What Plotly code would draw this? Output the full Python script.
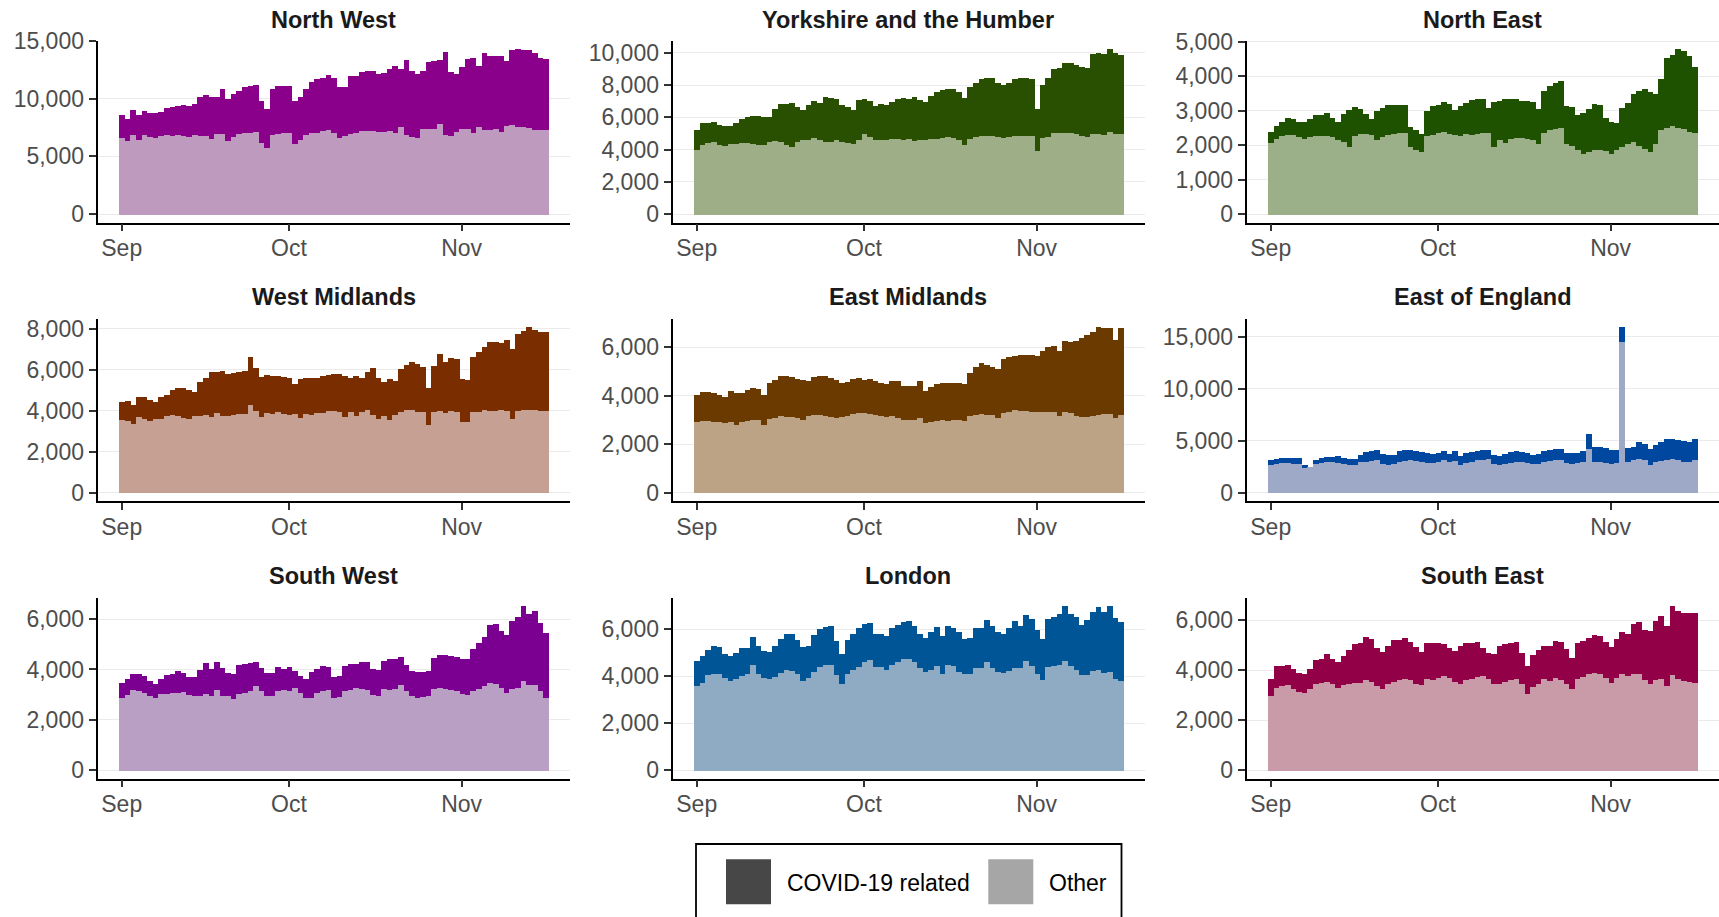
import pandas as pd
import plotly.graph_objects as go

# daily deaths, 1 Sep - 16 Nov 2020
DATES = pd.date_range("2020-09-01", periods=77, freq="D")

REGIONS = ["North West", "Yorkshire and the Humber", "North East",
           "West Midlands", "East Midlands", "East of England",
           "South West", "London", "South East"]

# total = COVID-19 related + other (bar height), other = lower part
NW_TOTAL = [8600, 8300, 9050, 8600, 9000, 8750, 8750, 8900, 9250, 9300,
            9400, 9500, 9400, 9550, 10200, 10350, 10150, 10200, 10850, 10000,
            10400, 10700, 11000, 11100, 11200, 9850, 9100, 10850, 11100, 11150,
            11100, 9850, 10200, 10900, 11500, 11700, 11800, 12100, 11800, 11000,
            11050, 12000, 12000, 12300, 12450, 12400, 12200, 12250, 12600, 12850,
            12600, 13400, 12450, 12200, 12450, 13200, 13300, 13400, 14050, 12350,
            12200, 12750, 13450, 13550, 12850, 13950, 13750, 13700, 13700, 13300,
            14250, 14300, 14200, 14200, 13950, 13550, 13500]
NW_OTHER = [6650, 6400, 6850, 6500, 6850, 6700, 6650, 6800, 6850, 6800,
            6900, 6800, 6700, 6850, 6800, 6800, 6550, 6950, 6950, 6400,
            6700, 6950, 7050, 7100, 7150, 6200, 5800, 6900, 7000, 7050,
            7100, 6100, 6450, 6850, 7050, 7100, 7250, 7350, 7050, 6650,
            6800, 7000, 7050, 7200, 7250, 7200, 7150, 7150, 7200, 7100,
            7600, 6850, 6700, 6600, 7450, 7450, 7450, 7800, 6850, 6800,
            7150, 7450, 7400, 7100, 7600, 7350, 7350, 7400, 7150, 7650,
            7750, 7550, 7550, 7500, 7350, 7300, 7300]

YH_TOTAL = [5270, 5700, 5700, 5730, 5570, 5500, 5480, 5700, 5950, 6030,
            6100, 6120, 6070, 6070, 6550, 6850, 6850, 6950, 6650, 6480,
            6800, 7050, 6950, 7300, 7250, 7150, 6800, 6700, 6500, 7100,
            7150, 7050, 6720, 6830, 6770, 7000, 7170, 7230, 7150, 7300,
            7100, 7000, 7350, 7600, 7720, 7820, 7820, 7620, 7220, 7900,
            8180, 8400, 8470, 8470, 8130, 8030, 8130, 8400, 8450, 8500,
            8380, 6580, 8030, 8450, 9020, 9100, 9380, 9380, 9300, 9170,
            9100, 9950, 10000, 9930, 10250, 10000, 9880]
YH_OTHER = [4030, 4350, 4430, 4500, 4350, 4250, 4400, 4400, 4430, 4430,
            4400, 4320, 4350, 4500, 4560, 4500, 4350, 4200, 4500, 4600,
            4650, 4730, 4600, 4500, 4520, 4600, 4520, 4450, 4380, 4600,
            4980, 4800, 4650, 4650, 4600, 4700, 4700, 4650, 4700, 4560,
            4600, 4650, 4700, 4720, 4780, 4800, 4780, 4600, 4350, 4700,
            4820, 4860, 4900, 4860, 4820, 4780, 4820, 4860, 4900, 4900,
            4900, 3940, 4780, 4820, 5080, 5060, 5080, 5060, 4980, 4900,
            4820, 4980, 5020, 4920, 5150, 5020, 5020]

NE_TOTAL = [2400, 2570, 2680, 2810, 2780, 2680, 2680, 2770, 2890, 2890,
            2940, 2820, 2680, 2920, 3040, 3130, 3070, 2920, 2780, 3020,
            3110, 3190, 3190, 3190, 3190, 2550, 2450, 2350, 3000, 3150,
            3170, 3280, 3210, 3030, 3150, 3250, 3330, 3370, 3350, 3110,
            3270, 3290, 3370, 3370, 3370, 3310, 3300, 3280, 3070, 3580,
            3740, 3820, 3880, 3150, 3130, 2880, 2960, 3070, 3200, 3180,
            2800, 2680, 2670, 3100, 3250, 3500, 3600, 3640, 3550, 3500,
            3930, 4550, 4620, 4800, 4750, 4600, 4300]
NE_OTHER = [2080, 2200, 2280, 2320, 2320, 2250, 2200, 2250, 2280, 2280,
            2280, 2260, 2180, 2100, 1960, 2280, 2330, 2350, 2300, 2180,
            2260, 2300, 2340, 2360, 2360, 1960, 1880, 1820, 2280, 2320,
            2370, 2400, 2350, 2300, 2280, 2330, 2300, 2350, 2370, 2370,
            1960, 2160, 2080, 2200, 2240, 2240, 2200, 2180, 2060, 2370,
            2450, 2500, 2530, 2060, 2000, 1870, 1770, 1820, 1870, 1890,
            1850, 1750, 1870, 1960, 2040, 2110, 1980, 1900, 1820, 2040,
            2470, 2530, 2570, 2530, 2490, 2400, 2370]

WM_TOTAL = [4440, 4470, 4280, 4650, 4650, 4500, 4410, 4690, 4770, 5010,
            5130, 5100, 5010, 4930, 5390, 5620, 5910, 5880, 5940, 5800,
            5830, 5910, 5940, 6600, 6100, 5650, 5750, 5710, 5680, 5650,
            5620, 5320, 5550, 5580, 5620, 5580, 5700, 5750, 5810, 5810,
            5710, 5620, 5710, 5580, 5880, 6070, 5620, 5390, 5550, 5450,
            6040, 6240, 6400, 6300, 6150, 5130, 6200, 6790, 6400, 6560,
            6530, 5550, 5520, 6600, 6860, 7130, 7350, 7350, 7280, 7440,
            6990, 7740, 7900, 8070, 7950, 7840, 7840]
WM_OTHER = [3540, 3490, 3330, 3710, 3590, 3490, 3620, 3590, 3760, 3790,
            3720, 3660, 3590, 3720, 3720, 3790, 3690, 3870, 3760, 3760,
            3790, 3820, 3820, 4280, 3980, 3710, 3870, 3850, 3920, 3850,
            3790, 3820, 3660, 3820, 3790, 3870, 3890, 3980, 3980, 3920,
            3710, 3920, 3760, 3920, 4030, 3790, 3620, 3760, 3540, 3790,
            3950, 4030, 4030, 3920, 3950, 3300, 3920, 3980, 3870, 3980,
            3920, 3430, 3460, 3920, 3950, 4030, 4000, 3980, 4030, 3980,
            3590, 3980, 4030, 4050, 4020, 3980, 3980]

EM_TOTAL = [4020, 4150, 4150, 4120, 4050, 3950, 4180, 4100, 4100, 4250,
            4330, 4300, 4050, 4550, 4650, 4800, 4800, 4780, 4700, 4650,
            4600, 4780, 4800, 4800, 4750, 4650, 4550, 4570, 4700, 4720,
            4650, 4680, 4620, 4550, 4500, 4600, 4620, 4400, 4400, 4400,
            4620, 4200, 4370, 4500, 4520, 4550, 4550, 4530, 4500, 4930,
            5200, 5350, 5280, 5200, 5100, 5500, 5620, 5630, 5700, 5680,
            5680, 5630, 5850, 6000, 6050, 5850, 6270, 6220, 6250, 6400,
            6520, 6630, 6830, 6800, 6800, 6300, 6800]
EM_OTHER = [2930, 2960, 2960, 2930, 2920, 2860, 2900, 2780, 2900, 2980,
            3000, 2990, 2780, 3050, 3100, 3150, 3130, 3130, 3100, 3000,
            3180, 3200, 3200, 3180, 3120, 3100, 3120, 3150, 3250, 3300,
            3280, 3250, 3200, 3150, 3130, 3180, 3100, 3020, 3000, 3000,
            3080, 2880, 2930, 2980, 3000, 2980, 3000, 3000, 2980, 3150,
            3200, 3230, 3220, 3200, 3100, 3300, 3350, 3400, 3380, 3380,
            3350, 3330, 3320, 3350, 3330, 3150, 3350, 3300, 3150, 3120,
            3130, 3150, 3200, 3250, 3230, 3100, 3200]

EOE_TOTAL = [3100, 3250, 3350, 3380, 3350, 3300, 2650, 2500, 3150, 3300,
             3400, 3450, 3500, 3300, 3200, 3250, 3650, 3900, 4000, 4100,
             3700, 3600, 3600, 4000, 4150, 4150, 4000, 3900, 3800, 3750,
             3850, 4050, 3700, 4050, 3500, 3800, 3900, 4000, 4100, 4150,
             3600, 3500, 3700, 3900, 4000, 3900, 3850, 3650, 3700, 4000,
             4100, 4200, 4250, 3850, 3800, 3850, 4050, 5650, 4400, 4400,
             4300, 4100, 4150, 15900, 4300, 4400, 4850, 4700, 4250, 4550,
             4850, 5200, 5150, 5100, 4950, 4900, 5200]
EOE_OTHER = [2700, 2800, 2850, 2850, 2800, 2750, 2400, 2450, 2800, 2900,
             2950, 2950, 2900, 2750, 2650, 2700, 2950, 3000, 3050, 3100,
             2800, 2700, 2750, 2950, 3050, 3100, 3050, 2950, 2850, 2900,
             3000, 3150, 2950, 3050, 2700, 2850, 2950, 3100, 3150, 3200,
             2750, 2650, 2800, 2900, 3000, 2950, 2900, 2750, 2800, 3000,
             3050, 3100, 3100, 2850, 2800, 2850, 2950, 4250, 3000, 2950,
             2900, 2800, 2850, 14500, 3000, 3100, 3200, 3150, 2650, 2950,
             3050, 3150, 3200, 3100, 3000, 2950, 3150]

SW_TOTAL = [3500, 3630, 3830, 3830, 3760, 3550, 3460, 3660, 3800, 3830,
            3940, 3900, 3730, 3730, 3980, 4260, 4050, 4310, 4090, 3870,
            3850, 4180, 4220, 4290, 4310, 4090, 3890, 3870, 4120, 4020,
            4130, 3960, 3760, 3630, 3930, 4050, 4160, 4130, 3730, 3760,
            4160, 4220, 4220, 4310, 4310, 4020, 3980, 4340, 4420, 4420,
            4510, 4180, 3960, 3920, 3920, 3960, 4490, 4590, 4580, 4550,
            4520, 4420, 4450, 4840, 5080, 5290, 5800, 5840, 5540, 5380,
            5940, 6090, 6530, 6240, 6330, 5870, 5450]
SW_OTHER = [2900, 3000, 3200, 3180, 3100, 2950, 2900, 3050, 3050, 3080,
            3100, 3120, 3000, 2950, 2980, 3050, 2950, 3200, 2980, 2980,
            2850, 3050, 3100, 3150, 3350, 3150, 2980, 2950, 3150, 3200,
            3180, 3300, 3100, 2880, 2900, 3100, 3150, 3200, 2900, 2920,
            3150, 3200, 3300, 3250, 3200, 3000, 2980, 3250, 3220, 3250,
            3400, 3150, 2950, 2900, 2920, 2950, 3250, 3270, 3250, 3220,
            3150, 3050, 3000, 3150, 3250, 3350, 3500, 3450, 3300, 3100,
            3250, 3300, 3550, 3400, 3420, 3150, 2900]

LON_TOTAL = [4650, 4870, 5120, 5300, 5250, 4970, 4890, 5000, 5200, 5220,
             5690, 5320, 5080, 5060, 5290, 5600, 5790, 5820, 5560, 5260,
             5320, 5770, 6030, 6110, 6170, 5500, 4940, 5570, 5830, 6070,
             6250, 6280, 5790, 5830, 5720, 6070, 6210, 6310, 6350, 6140,
             5790, 5650, 5890, 6100, 5720, 6170, 6070, 5890, 5600, 5650,
             6070, 6070, 6400, 6170, 5890, 5820, 6070, 6350, 6170, 6600,
             6450, 6000, 5600, 6450, 6540, 6680, 6990, 6680, 6520, 6200,
             6420, 6740, 6950, 6740, 6990, 6480, 6340]
LON_OTHER = [3600, 3720, 4050, 4120, 4100, 3950, 3820, 3880, 4020, 4100,
             4500, 4100, 3950, 3900, 4000, 4150, 4280, 4250, 4100, 3800,
             3950, 4200, 4400, 4500, 4500, 4050, 3700, 4100, 4300, 4400,
             4600, 4720, 4400, 4420, 4300, 4500, 4620, 4750, 4750, 4600,
             4350, 4200, 4300, 4450, 4100, 4500, 4450, 4200, 4100, 4100,
             4350, 4350, 4600, 4350, 4200, 4150, 4250, 4350, 4350, 4650,
             4450, 4100, 3850, 4400, 4450, 4500, 4650, 4450, 4300, 4050,
             4050, 4250, 4300, 4150, 4200, 3900, 3800]

SE_TOTAL = [3680, 4180, 4180, 4240, 4080, 3890, 3880, 4080, 4410, 4480,
            4650, 4480, 4340, 4580, 4820, 5050, 5090, 5340, 5250, 4900,
            4740, 5000, 5220, 5210, 5300, 5140, 4950, 4750, 5090, 5090,
            5110, 5070, 4910, 4780, 5000, 5090, 5110, 5140, 4910, 4710,
            4670, 4980, 5050, 5090, 5140, 4710, 4180, 4620, 4820, 5000,
            4980, 5180, 5140, 4870, 4490, 5090, 5180, 5310, 5440, 5380,
            5140, 4950, 5250, 5540, 5480, 5880, 5960, 5640, 5580, 5980,
            6180, 5800, 6570, 6370, 6310, 6280, 6280]
SE_OTHER = [3000, 3320, 3400, 3420, 3250, 3150, 3120, 3280, 3450, 3520,
            3550, 3450, 3320, 3420, 3450, 3520, 3520, 3620, 3550, 3380,
            3280, 3450, 3550, 3620, 3680, 3620, 3480, 3430, 3680, 3620,
            3700, 3780, 3720, 3550, 3450, 3620, 3680, 3750, 3800, 3650,
            3480, 3450, 3550, 3620, 3680, 3480, 3080, 3350, 3480, 3650,
            3580, 3720, 3620, 3480, 3250, 3680, 3750, 3850, 3920, 3880,
            3700, 3520, 3720, 3880, 3780, 3850, 3850, 3620, 3480, 3620,
            3650, 3400, 3820, 3680, 3580, 3540, 3500]

TOTALS = [NW_TOTAL, YH_TOTAL, NE_TOTAL, WM_TOTAL, EM_TOTAL, EOE_TOTAL,
          SW_TOTAL, LON_TOTAL, SE_TOTAL]
OTHERS = [NW_OTHER, YH_OTHER, NE_OTHER, WM_OTHER, EM_OTHER, EOE_OTHER,
          SW_OTHER, LON_OTHER, SE_OTHER]

DARK = ["#8B008B", "#285000", "#1E5200", "#7A2E00", "#6B3A00",
        "#0047A0", "#7B0092", "#005596", "#920048"]
LIGHT = ["#BE9BBE", "#9EAE86", "#9BAF88", "#C6A092", "#BCA386",
         "#9DA9C7", "#B89FC3", "#8FABC4", "#C99AA8"]
Y_STEP = [5000, 2000, 1000, 2000, 2000, 5000, 2000, 2000, 2000]

W, H = 1719, 917
FONT = "Liberation Sans, Arial, sans-serif"
COL_LEFT = [97.5, 672.5, 1246.5]
PANEL_W = 472
ROW_TOP = [40.5, 319, 597.5]
ROW_BOTTOM = [222.5, 501, 778.5]
TITLE_Y = [19.7, 297, 575.6]

day = pd.Timedelta(days=1)
pad = 0.05 * ((DATES[-1] - DATES[0]) + day)
x_range = [DATES[0] - 0.5 * day - pad, DATES[-1] + 0.5 * day + pad]
# slightly wider than one day so neighbouring bars leave no hairline seams
bar_w = 1.04 * 86400000

fig = go.Figure()
annotations = []
for i, region in enumerate(REGIONS):
    sfx = "" if i == 0 else str(i + 1)
    row, col = divmod(i, 3)
    total, other = TOTALS[i], OTHERS[i]

    fig.add_trace(go.Bar(
        x=DATES, y=total, name="COVID-19 related", width=bar_w,
        marker=dict(color=DARK[i], line=dict(width=0)),
        xaxis="x" + sfx, yaxis="y" + sfx, showlegend=False
    ))
    fig.add_trace(go.Bar(
        x=DATES, y=other, name="Other", width=bar_w,
        marker=dict(color=LIGHT[i], line=dict(width=0)),
        xaxis="x" + sfx, yaxis="y" + sfx, showlegend=False
    ))

    x0 = COL_LEFT[col]
    ymax = max(total)
    fig.layout["xaxis" + sfx] = dict(
        domain=[x0 / W, min(x0 + PANEL_W, W) / W], anchor="y" + sfx,
        type="date", range=x_range, tick0="2020-09-01", dtick="M1",
        tickformat="%b", showgrid=False, zeroline=False, automargin=False,
        showline=True, linecolor="black", linewidth=1.8,
        ticks="outside", ticklen=7, tickwidth=1.8, tickcolor="#333333",
        ticklabelstandoff=-3,
        tickfont=dict(family=FONT, size=23, color="#4D4D4D"),
    )
    fig.layout["yaxis" + sfx] = dict(
        domain=[1 - ROW_BOTTOM[row] / H, 1 - ROW_TOP[row] / H], anchor="x" + sfx,
        range=[-0.05 * ymax, 1.05 * ymax], tick0=0, dtick=Y_STEP[i],
        tickformat=",d", showgrid=True, gridcolor="#EBEBEB", gridwidth=1.3,
        zeroline=False, automargin=False,
        showline=True, linecolor="black", linewidth=1.8,
        ticks="outside", ticklen=7, tickwidth=1.8, tickcolor="#333333",
        tickfont=dict(family=FONT, size=23, color="#4D4D4D"),
    )
    annotations.append(dict(
        text="<b>" + region + "</b>", xref="paper", yref="paper",
        x=(x0 + PANEL_W / 2) / W, y=1 - TITLE_Y[row] / H,
        xanchor="center", yanchor="middle", showarrow=False,
        font=dict(family=FONT, size=23.5, color="#1A1A1A"),
    ))

# legend drawn by hand: box, two square keys, labels
shapes = [
    dict(type="rect", xref="paper", yref="paper",
         x0=696 / W, x1=1121.5 / W, y0=-0.1, y1=1 - 844 / H,
         line=dict(color="black", width=1.8), fillcolor="rgba(0,0,0,0)"),
    dict(type="rect", xref="paper", yref="paper",
         x0=726 / W, x1=771 / W, y0=1 - 904.3 / H, y1=1 - 859.3 / H,
         line=dict(width=0), fillcolor="#474747"),
    dict(type="rect", xref="paper", yref="paper",
         x0=988.3 / W, x1=1033.3 / W, y0=1 - 904.3 / H, y1=1 - 859.3 / H,
         line=dict(width=0), fillcolor="#A6A6A6"),
]
for label, lx in [("COVID-19 related", 785), ("Other", 1047)]:
    annotations.append(dict(
        text=label, xref="paper", yref="paper", x=lx / W, y=1 - 883.3 / H,
        xanchor="left", yanchor="middle", showarrow=False,
        font=dict(family=FONT, size=23, color="black"),
    ))

fig.update_layout(
    width=W, height=H, autosize=False,
    margin=dict(l=0, r=0, t=0, b=0, pad=0),
    paper_bgcolor="white", plot_bgcolor="white",
    barmode="overlay", bargap=0,
    showlegend=False,
    annotations=annotations, shapes=shapes,
    font=dict(family=FONT),
)

# drop the browser's default body margin so the figure sits at the page origin
fig.write_html(
    "out.html",
    config={"responsive": False, "displayModeBar": False},
    post_script="document.body.style.margin='0';document.body.style.overflow='hidden';",
)
